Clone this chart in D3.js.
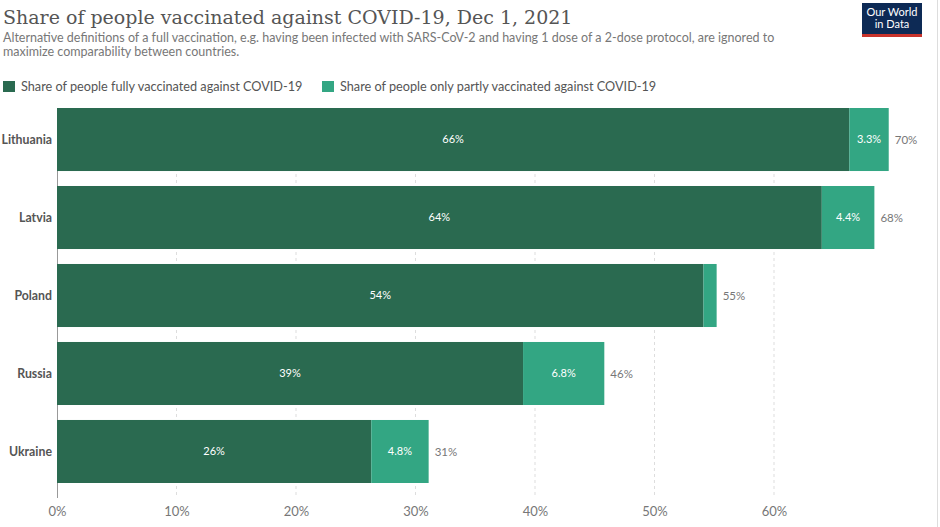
<!DOCTYPE html>
<html>
<head>
<meta charset="utf-8">
<script src="https://cdn.jsdelivr.net/npm/d3@7"></script>
<style>
  body { margin: 0; background: #fff; }
  svg { display: block; }
</style>
</head>
<body>
<svg id="chart" width="940" height="527"></svg>
<script>
// 数据
const countries = ['Lithuania', 'Latvia', 'Poland', 'Russia', 'Ukraine']
const fullyVaccinated = [66.3, 64.0, 54.1, 39.0, 26.3]
const partlyVaccinated = [3.3, 4.4, 1.1, 6.8, 4.8]
const xTicks = [0, 10, 20, 30, 40, 50, 60]
const seriesNames = [
  'Share of people fully vaccinated against COVID-19',
  'Share of people only partly vaccinated against COVID-19',
]

const colors = ['#2a6a50', '#33a683']
const font = 'Lato, "Open Sans", sans-serif'

const svg = d3.select('#chart')
const H = 527
const plotTop = 108
const plotBottom = 483
const left = 57

// 标题
svg.append('text')
  .attr('x', 3).attr('y', 24)
  .attr('font-family', '"DejaVu Serif", "Liberation Serif", serif')
  .attr('font-size', 19)
  .attr('fill', '#555')
  .text('Share of people vaccinated against COVID-19, Dec 1, 2021')

const subtitle = [
  'Alternative definitions of a full vaccination, e.g. having been infected with SARS-CoV-2 and having 1 dose of a 2-dose protocol, are ignored to',
  'maximize comparability between countries.',
]
svg.selectAll('text.subtitle')
  .data(subtitle)
  .join('text')
  .attr('class', 'subtitle')
  .attr('x', 3)
  .attr('y', (d, i) => 42 + i * 14)
  .attr('font-family', font)
  .attr('font-size', 12.5)
  .attr('fill', '#777')
  .text((d) => d)

// logo
const logo = svg.append('g').attr('transform', 'translate(862,3)')
logo.append('rect').attr('width', 60).attr('height', 34).attr('fill', '#0d2a55')
logo.append('rect').attr('y', 31).attr('width', 60).attr('height', 3).attr('fill', '#c8332b')
logo.selectAll('text')
  .data(['Our World', 'in Data'])
  .join('text')
  .attr('x', 30)
  .attr('y', (d, i) => 13 + i * 12)
  .attr('text-anchor', 'middle')
  .attr('font-family', font)
  .attr('font-size', 11)
  .attr('fill', '#fff')
  .text((d) => d)

// 右边框
svg.append('line')
  .attr('x1', 937.5).attr('x2', 937.5)
  .attr('y1', 0).attr('y2', H)
  .attr('stroke', '#ddd')

// 图例
const legendX = [3, 322]
const legend = svg.selectAll('g.legend')
  .data(seriesNames)
  .join('g')
  .attr('class', 'legend')
  .attr('transform', (d, i) => `translate(${legendX[i]},81)`)
legend.append('rect')
  .attr('width', 12).attr('height', 11)
  .attr('fill', (d, i) => colors[i])
legend.append('text')
  .attr('x', 18).attr('y', 10)
  .attr('font-family', font)
  .attr('font-size', 12.7)
  .attr('fill', '#555')
  .text((d) => d)

// 比例尺
const x = d3.scaleLinear()
  .domain([0, 10])
  .range([left, left + 119.5])

const y = d3.scaleBand()
  .domain(countries)
  .range([plotTop, plotBottom])
  .paddingInner(0.192)
  .paddingOuter(0)

// 网格线
svg.append('g')
  .selectAll('line')
  .data(xTicks.slice(1))
  .join('line')
  .attr('x1', (d) => x(d)).attr('x2', (d) => x(d))
  .attr('y1', plotTop).attr('y2', 497)
  .attr('stroke', '#ddd')
  .attr('stroke-dasharray', '3 3')

// 坐标轴
const axis = svg.append('g')
  .attr('transform', 'translate(0,498)')
  .call(d3.axisBottom(x).tickValues(xTicks).tickFormat((d) => d + '%').tickSize(0).tickPadding(9))
axis.select('.domain').remove()
axis.selectAll('text')
  .attr('font-family', font)
  .attr('font-size', 13)
  .attr('fill', '#777')

svg.append('line')
  .attr('x1', x(0) + 0.5).attr('x2', x(0) + 0.5)
  .attr('y1', plotTop).attr('y2', 498)
  .attr('stroke', '#999')

// 堆叠数据
const rows = countries.map((c, i) => ({country: c, full: fullyVaccinated[i], partly: partlyVaccinated[i]}))
const stacked = d3.stack().keys(['full', 'partly'])(rows)

const layers = svg.append('g')
  .selectAll('g')
  .data(stacked)
  .join('g')
  .attr('fill', (d, i) => colors[i])

layers.selectAll('rect')
  .data((d) => d)
  .join('rect')
  .attr('x', (d) => x(d[0]))
  .attr('y', (d) => y(d.data.country))
  .attr('width', (d) => x(d[1]) - x(d[0]))
  .attr('height', y.bandwidth())

// 段内标签
const fmt = (v) => (v < 10 ? d3.format('.1f')(v) : d3.format('.0f')(v)) + '%'
layers.selectAll('text')
  .data((d) => d.filter((s) => x(s[1]) - x(s[0]) > 30))
  .join('text')
  .attr('x', (d) => (x(d[0]) + x(d[1])) / 2)
  .attr('y', (d) => y(d.data.country) + y.bandwidth() / 2)
  .attr('dy', '0.35em')
  .attr('text-anchor', 'middle')
  .attr('font-family', font)
  .attr('font-size', 11)
  .attr('fill', '#fff')
  .text((d) => fmt(d[1] - d[0]))

// 总计标签
svg.append('g')
  .selectAll('text')
  .data(rows)
  .join('text')
  .attr('x', (d) => x(d.full + d.partly) + 6)
  .attr('y', (d) => y(d.country) + y.bandwidth() / 2)
  .attr('dy', '0.35em')
  .attr('font-family', font)
  .attr('font-size', 11.5)
  .attr('fill', '#777')
  .text((d) => Math.round(d.full + d.partly) + '%')

// 国家标签
svg.append('g')
  .selectAll('text')
  .data(countries)
  .join('text')
  .attr('x', left - 5)
  .attr('y', (d) => y(d) + y.bandwidth() / 2)
  .attr('dy', '0.35em')
  .attr('text-anchor', 'end')
  .attr('font-family', font)
  .attr('font-size', 12.3)
  .attr('font-weight', 'bold')
  .attr('fill', '#555')
  .text((d) => d)
</script>
</body>
</html>
